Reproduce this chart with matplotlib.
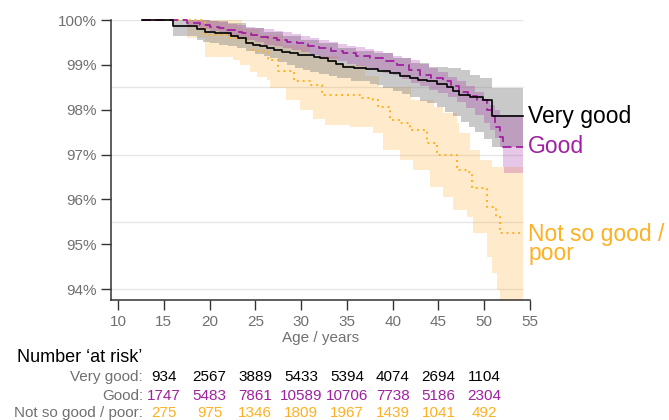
import numpy as np
import matplotlib
matplotlib.use("Agg")
import matplotlib.pyplot as plt
from matplotlib import transforms

plt.rcParams["font.family"] = ["Liberation Sans", "DejaVu Sans"]

# survival curves (percent), step functions
vg_age = [12.6, 16.0, 18.6, 19.5, 20.6, 21.7, 22.4, 23.1, 24.0, 24.7, 25.5, 26.3, 27.0, 27.9,
          28.8, 29.7, 30.6, 31.4, 32.1, 32.9, 33.8, 34.6, 35.8, 37.1, 38.4, 39.7, 40.8, 41.9,
          42.8, 43.7, 44.8, 45.9, 46.6, 47.3, 48.5, 49.9, 50.9, 54.2]
vg_surv = [100, 99.87, 99.80, 99.74, 99.72, 99.70, 99.65, 99.59, 99.48, 99.45, 99.41, 99.37, 99.33, 99.29,
           99.26, 99.23, 99.21, 99.18, 99.15, 99.08, 99.02, 98.96, 98.93, 98.90, 98.86, 98.81, 98.76, 98.70,
           98.67, 98.63, 98.57, 98.51, 98.42, 98.33, 98.28, 98.22, 97.85, 97.85]

gd_age = [12.6, 17.5, 19.0, 20.0, 21.0, 21.9, 22.8, 23.6, 24.5, 25.5, 26.4, 27.4, 28.5, 29.5,
          30.8, 32.0, 33.3, 34.6, 36.0, 37.5, 39.0, 40.5, 41.8, 43.0, 44.2, 45.5, 46.4, 47.3,
          48.2, 49.2, 50.3, 50.8, 51.2, 51.7, 52.0, 54.2]
gd_surv = [100, 99.93, 99.89, 99.85, 99.82, 99.78, 99.74, 99.70, 99.67, 99.63, 99.59, 99.55, 99.52, 99.48,
           99.42, 99.37, 99.31, 99.26, 99.20, 99.15, 99.08, 99.00, 98.88, 98.78, 98.70, 98.63, 98.52, 98.40,
           98.30, 98.22, 98.00, 97.85, 97.62, 97.40, 97.18, 97.18]

ng_age = [12.6, 19.5, 22.2, 24.0, 24.8, 26.4, 27.5, 29.2, 31.0, 32.3, 36.5, 37.9, 38.4,
          39.7, 40.8, 41.9, 43.7, 44.8, 47.0, 48.1, 48.7, 50.3, 51.3, 51.7, 54.2]
ng_surv = [100, 99.67, 99.59, 99.48, 99.30, 99.11, 98.87, 98.63, 98.56, 98.33, 98.26, 98.22, 98.07,
           97.77, 97.70, 97.55, 97.25, 96.99, 96.66, 96.62, 96.25, 95.84, 95.60, 95.25, 95.25]

# confidence bands
vg_lo_age = [16.0, 18.6, 19.3, 20.0, 21.0, 22.0, 23.0, 24.0, 25.0, 26.0, 26.6, 27.5, 28.5, 29.3,
             30.2, 31.0, 32.0, 33.0, 33.9, 35.5, 37.5, 38.3, 39.0, 40.0, 41.0, 41.9, 43.0, 43.8,
             44.8, 45.7, 46.6, 47.5, 48.3, 49.0, 50.0, 50.9, 54.2]
vg_lo = [99.65, 99.55, 99.50, 99.48, 99.45, 99.42, 99.38, 99.31, 99.25, 99.19, 99.15, 99.07, 99.00, 98.94,
         98.89, 98.85, 98.80, 98.75, 98.70, 98.65, 98.58, 98.55, 98.48, 98.42, 98.35, 98.29, 98.20, 98.14,
         98.07, 97.96, 97.85, 97.72, 97.62, 97.50, 97.35, 97.18, 97.18]
vg_hi_age = [16.0, 20.0, 22.0, 24.0, 26.0, 28.0, 30.0, 32.0, 34.0, 36.0, 38.0, 40.0, 42.0,
             44.0, 46.0, 47.5, 48.5, 49.5, 50.9, 54.2]
vg_hi = [100.0, 99.98, 99.93, 99.83, 99.74, 99.65, 99.56, 99.48, 99.38, 99.32, 99.26, 99.15, 99.05,
         98.95, 98.92, 98.88, 98.78, 98.70, 98.49, 98.49]

gd_lo_age = [17.5, 19.0, 20.0, 21.0, 22.0, 23.0, 24.0, 25.0, 26.0, 27.0, 28.0, 29.0, 30.0, 31.0,
             32.0, 33.0, 34.0, 35.0, 36.0, 37.0, 38.0, 39.0, 40.0, 41.0, 42.0, 43.0, 44.0, 45.0,
             46.0, 47.0, 48.0, 49.0, 50.0, 50.6, 51.2, 51.7, 52.0, 52.2, 54.2]
gd_lo = [99.85, 99.80, 99.75, 99.70, 99.65, 99.60, 99.55, 99.50, 99.45, 99.41, 99.37, 99.33, 99.28, 99.23,
         99.18, 99.13, 99.08, 99.03, 98.98, 98.93, 98.88, 98.83, 98.77, 98.68, 98.60, 98.53, 98.45, 98.38,
         98.28, 98.18, 98.04, 97.88, 97.70, 97.55, 97.38, 97.18, 96.73, 96.58, 96.58]
gd_hi_age = [17.5, 20.0, 21.0, 22.0, 23.0, 24.0, 25.0, 26.0, 27.0, 28.0, 29.0, 30.0, 31.0, 32.0,
             33.0, 34.0, 35.0, 36.0, 37.0, 38.0, 39.0, 40.0, 41.0, 42.0, 43.0, 44.0, 45.0, 46.0,
             47.0, 48.0, 49.0, 50.0, 50.6, 51.2, 51.7, 54.2]
gd_hi = [100.0, 99.98, 99.95, 99.92, 99.88, 99.85, 99.82, 99.79, 99.76, 99.73, 99.69, 99.65, 99.60, 99.56,
         99.52, 99.47, 99.43, 99.39, 99.35, 99.31, 99.26, 99.20, 99.15, 99.10, 99.02, 98.93, 98.84, 98.74,
         98.64, 98.52, 98.40, 98.25, 98.10, 98.00, 97.88, 97.88]

ng_lo_age = [17.5, 19.5, 22.6, 23.3, 24.4, 25.2, 26.3, 26.6, 28.4, 29.9, 31.3, 32.6, 35.3, 37.8,
             38.9, 40.8, 42.2, 44.1, 45.5, 46.6, 48.1, 48.8, 50.3, 50.9, 51.4, 51.7, 54.2]
ng_lo = [99.60, 99.18, 99.10, 99.00, 98.85, 98.73, 98.66, 98.48, 98.22, 98.00, 97.80, 97.66, 97.62, 97.48,
         97.10, 96.88, 96.66, 96.28, 96.06, 95.77, 95.60, 95.25, 94.72, 94.36, 93.99, 93.00, 93.00]
ng_hi_age = [17.5, 23.5, 25.5, 28.0, 31.0, 34.0, 37.0, 38.5, 42.0, 44.5, 45.5, 47.0, 47.3,
             48.4, 49.5, 50.9, 54.2]
ng_hi = [100.0, 99.80, 99.67, 99.45, 99.20, 99.00, 98.75, 98.50, 98.22, 98.07, 97.92, 97.70, 97.48,
         97.10, 96.88, 96.73, 96.73]

# number at risk
risk_ages = [15, 20, 25, 30, 35, 40, 45, 50]
risk_vg = [934, 2567, 3889, 5433, 5394, 4074, 2694, 1104]
risk_gd = [1747, 5483, 7861, 10589, 10706, 7738, 5186, 2304]
risk_ng = [275, 975, 1346, 1809, 1967, 1439, 1041, 492]

labels = ["Very good", "Good", "Not so good / poor"]
c_vg = "#000000"
c_gd = "#A020A0"
c_ng = "#FFB020"
grey_txt = "#707070"


def step_at(knots, vals, x):
    idx = np.searchsorted(knots, x, side="right") - 1
    return np.asarray(vals)[idx]


def band(ax, lo_age, lo, hi_age, hi, color, alpha):
    grid = np.union1d(lo_age, hi_age)
    ax.fill_between(grid, step_at(lo_age, lo, grid), step_at(hi_age, hi, grid),
                    step="post", color=color, alpha=alpha, lw=0)


fig = plt.figure(figsize=(6.69, 4.2), dpi=100)
ax = fig.add_axes([111 / 669, 120 / 420, 419 / 669, 280 / 420])

ax.hlines([94, 95.5, 97, 98.5, 100], 9.24, 54.2, color="#e6e6e6", lw=1, zorder=0)

band(ax, ng_lo_age, ng_lo, ng_hi_age, ng_hi, "#FFAE28", 0.24)
band(ax, vg_lo_age, vg_lo, vg_hi_age, vg_hi, "#888888", 0.45)
band(ax, gd_lo_age, gd_lo, gd_hi_age, gd_hi, c_gd, 0.25)

ax.step(ng_age, ng_surv, where="post", color=c_ng, lw=1.4, ls=(0, (1, 2)), clip_on=False)
ax.step(gd_age, gd_surv, where="post", color=c_gd, lw=1.3, ls=(0, (5, 2.5)), clip_on=False)
ax.step(vg_age, vg_surv, where="post", color=c_vg, lw=1.2, clip_on=False)

ax.set_xlim(9.24, 55)
ax.set_ylim(93.76, 100)
ax.set_xticks(range(10, 56, 5))
ax.set_yticks(range(94, 101))
ax.set_yticklabels([f"{v}%" for v in range(94, 101)])
for s in ["top", "right"]:
    ax.spines[s].set_visible(False)
for s in ["left", "bottom"]:
    ax.spines[s].set_color("#333333")
    ax.spines[s].set_linewidth(1.1)
ax.tick_params(length=7.5, width=1, color="#333333", labelcolor=grey_txt,
               labelsize=11, pad=3)
ax.set_xlabel("Age / years", fontsize=11, color=grey_txt, labelpad=2)

# curve labels at the right end
ends = [(vg_surv[-1], labels[0], c_vg), (gd_surv[-1], labels[1], c_gd)]
for yv, lab, col in ends:
    ax.annotate(lab, (54.2, yv), xytext=(4, 0), textcoords="offset points",
                va="center", ha="left", fontsize=16.5, color=col, annotation_clip=False)
ax.annotate("Not so good /\npoor", (54.2, ng_surv[-1]), xytext=(4, 7), textcoords="offset points",
            va="top", ha="left", fontsize=16.5, color=c_ng, linespacing=0.75,
            annotation_clip=False)

# number at risk table
fig.text(17 / 669, 1 - 357 / 420, "Number \u2018at risk\u2019", fontsize=13,
         color="black", va="center", ha="left")
tr = transforms.blended_transform_factory(ax.transData, fig.transFigure)
rows = [(risk_vg, labels[0], c_vg, 377), (risk_gd, labels[1], c_gd, 396),
        (risk_ng, labels[2], c_ng, 413)]
for vals, lab, col, py in rows:
    yf = 1 - py / 420
    fig.text(143 / 669, yf, lab + ":", fontsize=11, color=grey_txt, ha="right", va="center")
    for a, n in zip(risk_ages, vals):
        ax.text(a, yf, str(n), transform=tr, fontsize=11, color=col,
                ha="center", va="center", clip_on=False)

fig.savefig("out.png", dpi=100)
